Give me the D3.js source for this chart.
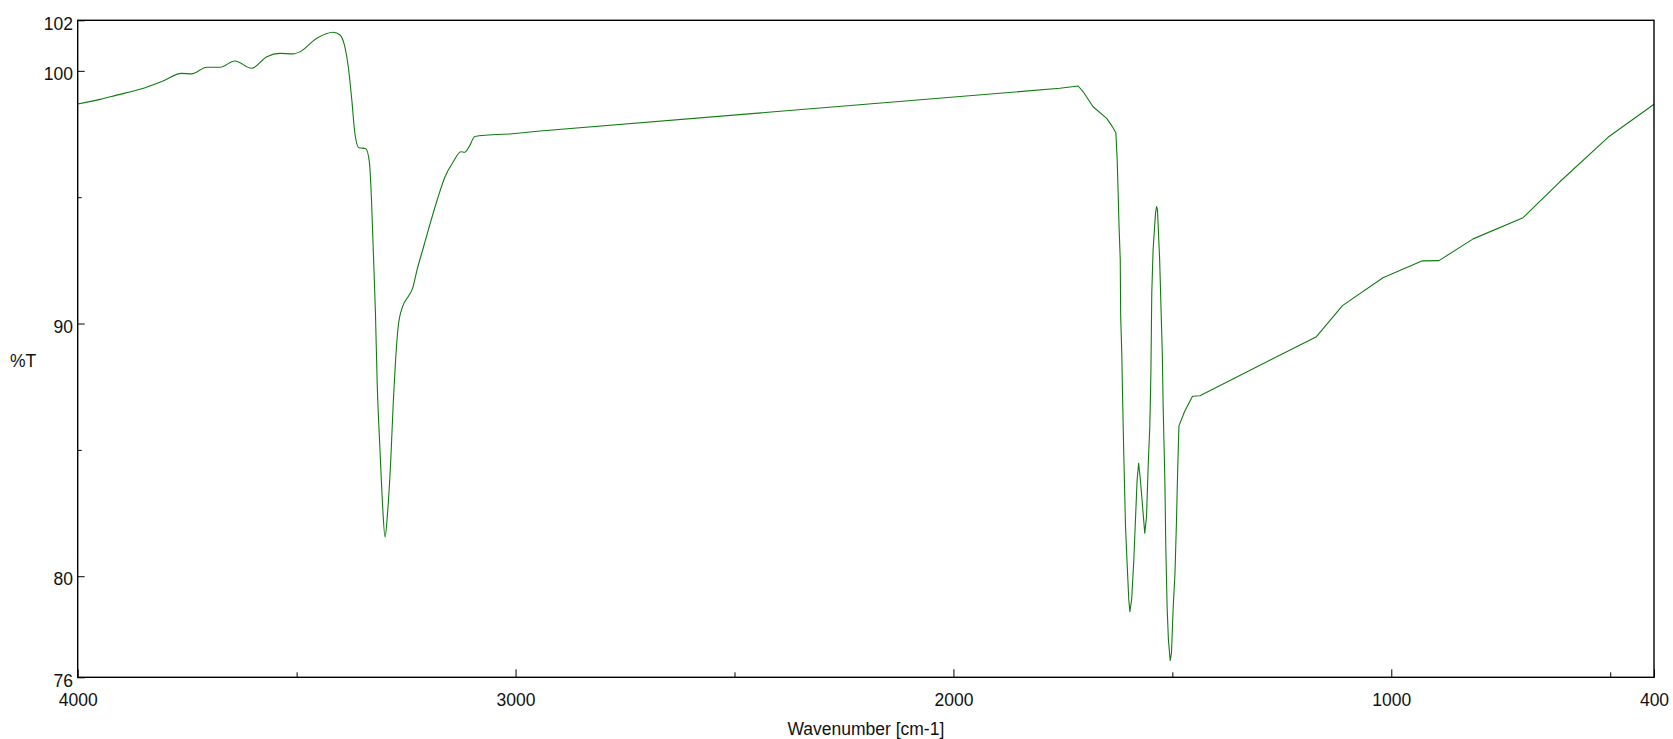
<!DOCTYPE html>
<html>
<head>
<meta charset="utf-8">
<script src="https://cdn.jsdelivr.net/npm/d3@7"></script>
<style>
  html, body { margin: 0; padding: 0; background: #fff; }
  svg { display: block; }
  text { font-family: Arial, "Liberation Sans", sans-serif; fill: #111; }
</style>
</head>
<body>
<svg id="chart" width="1673" height="739"></svg>
<script>
// Wavenumber (cm-1) and transmittance (%T)
const wavenumber = [4000,3949,3911,3858,3805,3763,3740,3705,3675,3641,
  3603,3568,3538,3508,3492,3454,3416,3401,3390,3382,
  3374,3367,3358,3342,3334,3329,3325,3320,3316,3310,
  3304,3298,3293,3285,3279,3274,3268,3258,3245,3235,
  3225,3211,3196,3179,3161,3142,3125,3116,3106,3093,
  3062,3013,2944,1757,
  1715,1704,1681,1650,1637,1629,1626,1624,1622,1619,
  1618,1615.5,1614,1611,1607,1603,1599.5,1597,1593,1588,
  1583,1580.5,1577,1573,1568,1563,1559,1555,1551.5,1549,
  1547,1544,1538.5,1536,1534,1529,1523,1521,1517,1515,
  1512,1509,1505,1502,1498,1494,1490.5,1488,1485,1472,
  1454,1437,1171,1111.5,1019,929,891,813,699,615,
  505,400];
const transmittance = [98.69,98.87,99.04,99.27,99.60,99.90,99.88,100.14,100.14,100.39,
  100.10,100.56,100.69,100.67,100.76,101.29,101.53,101.42,100.96,100.16,
  98.85,97.53,96.96,96.92,96.41,94.89,92.91,90.41,87.64,85.13,
  82.89,81.55,82.36,84.60,86.98,88.56,89.88,90.67,91.07,91.40,
  92.12,92.98,93.90,94.89,95.81,96.41,96.80,96.78,97.00,97.40,
  97.46,97.50,97.62,99.31,
  99.40,99.18,98.58,98.12,97.79,97.55,96.47,95.29,93.97,92.52,
  90.27,88.83,87.37,84.87,81.97,80.38,79.07,78.60,79.07,80.65,
  82.76,83.81,84.47,83.81,82.76,81.70,82.36,84.47,85.92,88.03,
  91.20,92.91,94.36,94.63,94.50,92.52,88.83,86.71,83.68,81.18,
  78.80,77.48,76.67,76.96,78.80,80.12,82.23,84.08,85.95,86.52,
  87.12,87.14,89.48,90.71,91.81,92.48,92.49,93.35,94.19,95.61,
  97.37,98.68];

const xMajorTicks = [4000, 3000, 2000, 1000, 400];
const xMinorTicks = [3500, 2500, 1500, 500];
const yMajorTicks = [102, 100, 90, 80, 76];
const yMinorTicks = [95, 85];
const xTitle = "Wavenumber [cm-1]";
const yTitle = "%T";

const svg = d3.select("#chart");
const plotL = 77.7, plotR = 1654, plotT = 20.3, plotB = 677.3;

const x = d3.scaleLinear().domain([4000, 400]).range([plotL, plotR]);
const y = d3.scaleLinear().domain([76, 102]).range([plotB, plotT]);

const data = wavenumber.map((w, i) => ({ w, t: transmittance[i] }));
// smooth high-wavenumber part, straight segments afterwards (as in the original trace)
const split = 51;
const smoothPart = data.slice(0, split + 1);
const straightPart = data.slice(split);

const lineSmooth = d3.line().x(d => x(d.w)).y(d => y(d.t)).curve(d3.curveMonotoneX);
const lineStraight = d3.line().x(d => x(d.w)).y(d => y(d.t));

[[smoothPart, lineSmooth], [straightPart, lineStraight]].forEach(([part, gen]) => {
  svg.append("path")
    .datum(part)
    .attr("fill", "none")
    .attr("stroke", "#107c10")
    .attr("stroke-width", 1.1)
    .attr("stroke-linejoin", "round")
    .attr("d", gen);
});

// X axis (ticks point inward)
const gx = svg.append("g").attr("transform", `translate(0,${plotB})`)
  .call(d3.axisBottom(x).tickValues(xMajorTicks).tickSizeInner(-8).tickSizeOuter(0)
    .tickPadding(16).tickFormat(d3.format("d")));
gx.select(".domain").remove();
gx.selectAll("text").style("font-size", "17.5px").attr("fill", "#111");
gx.selectAll("line").attr("stroke", "#000");

const gxm = svg.append("g").attr("transform", `translate(0,${plotB})`)
  .call(d3.axisBottom(x).tickValues(xMinorTicks).tickSizeInner(-5).tickSizeOuter(0).tickFormat(""));
gxm.select(".domain").remove();
gxm.selectAll("line").attr("stroke", "#000");

// Y axis
const gy = svg.append("g").attr("transform", `translate(${plotL},0)`)
  .call(d3.axisLeft(y).tickValues(yMajorTicks).tickSizeInner(-7).tickSizeOuter(0)
    .tickPadding(4.7).tickFormat(d3.format("d")));
gy.select(".domain").remove();
gy.selectAll("text").style("font-size", "17.5px").attr("dy", "0.5em").attr("fill", "#111");
gy.selectAll("line").attr("stroke", "#000");

const gym = svg.append("g").attr("transform", `translate(${plotL},0)`)
  .call(d3.axisLeft(y).tickValues(yMinorTicks).tickSizeInner(-4).tickSizeOuter(0).tickFormat(""));
gym.select(".domain").remove();
gym.selectAll("line").attr("stroke", "#000");

// Frame
svg.append("rect")
  .attr("x", plotL).attr("y", plotT)
  .attr("width", plotR - plotL).attr("height", plotB - plotT)
  .attr("fill", "none").attr("stroke", "#000").attr("stroke-width", 1.4);

// Titles
svg.append("text")
  .attr("x", (plotL + plotR) / 2).attr("y", 729)
  .attr("text-anchor", "middle").attr("dy", "0.35em")
  .style("font-size", "17.5px")
  .text(xTitle);

svg.append("text")
  .attr("x", 10).attr("y", 361)
  .attr("dy", "0.35em")
  .style("font-size", "17.5px")
  .text(yTitle);
</script>
</body>
</html>
